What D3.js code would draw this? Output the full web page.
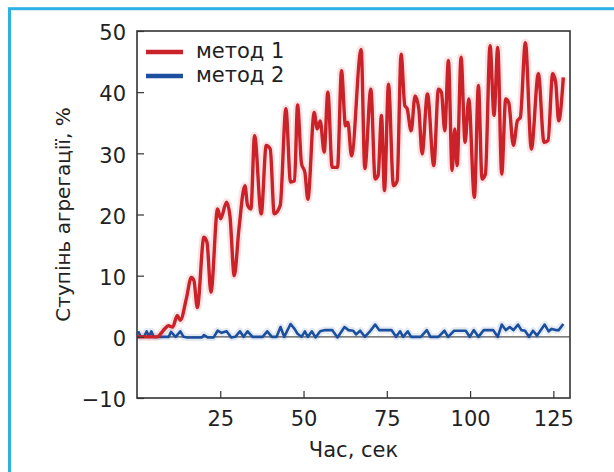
<!DOCTYPE html>
<html>
<head>
<meta charset="utf-8">
<script src="https://cdn.jsdelivr.net/npm/d3@7"></script>
<style>
  body { margin: 0; background: #fff; }
  svg { display: block; font-family: "DejaVu Sans", sans-serif; }
</style>
</head>
<body>
<svg id="chart" width="614" height="472"></svg>
<script>
// метод 1 (red) - time (s) and aggregation (%)
var t1 = [0, 6, 8.3, 9.5, 10.7, 12.1, 13, 14.8, 16.3, 17.1, 18.1, 20.1, 21, 22.2, 24.2, 25.1, 26.9, 27.9, 29.2,
  30.6, 32.4, 33.2, 34.2, 35.3, 37.3, 38.8, 40, 41.2, 43, 44.7, 46.1, 47.3, 48.2, 49.4, 50.4, 51.3, 53.2, 54.1,
  55, 56.2, 57.3, 58.6, 60.2, 61.4, 62.6, 63.3, 64.4, 67.3, 68.4, 70.2, 71.5, 72.4, 73.4, 74.3, 75.5, 77, 78.1,
  79.3, 80.4, 81.1, 82.3, 83.5, 84.6, 85.6, 87.2, 89.1, 90.5, 91.4, 92.4, 93.5, 94.6, 95.4, 96.1, 97.3, 98.5,
  99.6, 101.3, 102.5, 103.6, 104.6, 106, 107.2, 108.3, 109.5, 110.7, 111.6, 113, 114.2, 115.1, 116.6, 118.4,
  120.5, 122.2, 123.4, 124.8, 125.7, 126.6, 128];
var v1 = [0, 0, 1.3, 1.8, 1.6, 3.5, 2.7, 6.2, 9.7, 9.2, 4.8, 16.3, 15.5, 7.3, 20.9, 19.3, 22, 19.8, 10,
  17.6, 24.7, 21.5, 20.9, 32.9, 20.1, 31.3, 30.7, 20.1, 21.5, 37.3, 25.3, 25.5, 37.9, 28.3, 26.9, 22.5, 36.7, 34,
  35.3, 30.2, 40, 27.7, 27.7, 43.5, 34.5, 35.1, 29.6, 47, 27.5, 40.5, 25.8, 26.4, 36.2, 23.9, 41.3, 24.7, 25.5,
  46.2, 37.8, 37.3, 33.7, 39.4, 37.3, 29.9, 39.7, 28, 40.5, 40, 33.7, 45.2, 27.2, 34, 28, 45.7, 31.8,
  38.9, 22.8, 41.1, 25.8, 26.6, 47.6, 36.2, 47.3, 26.6, 38.9, 38.3, 31.3, 35.3, 35.9, 48.1, 30.7,
  43, 31.8, 32.1, 43, 41.6, 35.3, 42.4];

// метод 2 (blue)
var t2 = [0.35, 1.1, 2.2, 2.9, 3.6, 4.3, 5.0, 7.2, 9.5, 10.2, 11.6, 13.0, 14.0, 15.1, 17.7, 19.5, 20.1, 21.2,
  23.0, 24.2, 25.4, 26.9, 28.3, 29.5, 30.9, 32.0, 33.2, 34.7, 36.5, 37.7, 39.1, 40.5, 41.9, 43.1, 44.2, 46.1,
  47.3, 48.2, 49.4, 50.4, 51.3, 52.5, 53.6, 55.0, 56.5, 58.6, 60.2, 62.3, 63.5, 64.9, 65.8, 67.0, 68.4, 69.8,
  71.5, 72.7, 73.8, 76.4, 77.8, 79.0, 79.9, 81.3, 82.3, 83.5, 85.2, 87.0, 88.1, 90.5, 92.3, 93.4, 95.2, 97.3,
  98.7, 99.9, 101.1, 102.5, 104.1, 106.9, 108.3, 109.5, 110.7, 111.9, 113.0, 114.4, 115.4, 116.5, 117.7,
  118.9, 120.1, 122.4, 123.6, 124.5, 125.7, 126.6, 128.0];
var v2 = [0.9, 0, 0.1, 0.9, 0, 0.9, 0, 0, 0, 0.8, 0, 0.9, 0, -0.1, -0.1, -0.1, 0.3, -0.1,
  -0.1, 1.0, 0.65, 0.9, -0.1, 0, 0.9, 0, 0.9, 0, 0, 0, 0.9, 0, 0, 1.6, 0, 2.1,
  1.3, 0.5, 0, 0.9, 0, 0.9, -0.1, 0.9, 1.1, 1.1, -0.1, 1.6, 1.1, 1.0, 0.4, 1.0, 0, 0.8,
  2.0, 1.1, 1.1, 1.1, 0, 0.9, 0, 0.9, 0, 0, 0, 1.1, 0, 0, 1.0, 0, 1.0, 1.0,
  1.0, 0, 1.1, 0, 1.1, 1.1, 0, 2.0, 1.1, 1.6, 1.1, 2.0, 1.1, 1.0, 0,
  1.0, 0.2, 2.0, 0.9, 1.3, 1.1, 1.1, 2.1];

var xTicks = [25, 50, 75, 100, 125];
var yTicks = [-10, 0, 10, 20, 30, 40, 50];
var legendNames = ["метод 1", "метод 2"];
var colors = ["#cb2229", "#1c4f9e"];

var data1 = t1.map(function (t, i) { return { t: t, v: v1[i] }; });
var data2 = t2.map(function (t, i) { return { t: t, v: v2[i] }; });

var plotLeft = 137, plotRight = 570, plotTop = 31, plotBottom = 398;

var svg = d3.select("#chart");

// light blue frame
svg.append("rect")
  .attr("x", 9.5).attr("y", 8.7)
  .attr("width", 700).attr("height", 600)
  .attr("fill", "none")
  .attr("stroke", "#2cb0e6")
  .attr("stroke-width", 3);

var xScale = d3.scaleLinear().domain([0, 130]).range([plotLeft, plotRight]);
var yScale = d3.scaleLinear().domain([-10, 50]).range([plotBottom, plotTop]);

// zero line
svg.append("line")
  .attr("x1", plotLeft).attr("x2", plotRight)
  .attr("y1", yScale(0)).attr("y2", yScale(0))
  .attr("stroke", "#555")
  .attr("stroke-width", 1.2);

var line = d3.line()
  .x(d => xScale(d.t))
  .y(d => yScale(d.v));

// soft halos like the printed figure
svg.append("path").datum(data2)
  .attr("fill", "none").attr("stroke", colors[1]).attr("stroke-opacity", 0.12)
  .attr("stroke-width", 7).attr("stroke-linejoin", "round")
  .attr("d", line.curve(d3.curveLinear));
svg.append("path").datum(data2)
  .attr("fill", "none").attr("stroke", colors[1])
  .attr("stroke-width", 2.6).attr("stroke-linejoin", "round")
  .attr("d", line.curve(d3.curveLinear));

svg.append("path").datum(data1)
  .attr("fill", "none").attr("stroke", colors[0]).attr("stroke-opacity", 0.12)
  .attr("stroke-width", 8).attr("stroke-linejoin", "round")
  .attr("d", line.curve(d3.curveMonotoneX));
svg.append("path").datum(data1)
  .attr("fill", "none").attr("stroke", colors[0])
  .attr("stroke-width", 3.4).attr("stroke-linejoin", "round")
  .attr("d", line.curve(d3.curveMonotoneX));

// axes
var xAxis = d3.axisBottom(xScale)
  .tickValues(xTicks)
  .tickSizeInner(-7)
  .tickSizeOuter(0)
  .tickPadding(13);

var yAxis = d3.axisLeft(yScale)
  .tickValues(yTicks)
  .tickSizeInner(-7)
  .tickSizeOuter(0)
  .tickPadding(11)
  .tickFormat(d => d < 0 ? "\u2212" + Math.abs(d) : d);

var gx = svg.append("g")
  .attr("transform", "translate(0," + plotBottom + ")")
  .call(xAxis);

var gy = svg.append("g")
  .attr("transform", "translate(" + plotLeft + ",0)")
  .call(yAxis);

[gx, gy].forEach(function (g) {
  g.select(".domain").remove();
  g.selectAll(".tick line").attr("stroke", "#333").attr("stroke-width", 1.2);
  g.selectAll(".tick text")
    .attr("fill", "#222")
    .style("font-family", "DejaVu Sans")
    .style("font-size", "21px");
});
gy.selectAll(".tick text").attr("dy", "0.42em");

// box
svg.append("rect")
  .attr("x", plotLeft).attr("y", plotTop)
  .attr("width", plotRight - plotLeft).attr("height", plotBottom - plotTop)
  .attr("fill", "none")
  .attr("stroke", "#333")
  .attr("stroke-width", 1.6);

// axis titles
svg.append("text")
  .attr("x", (plotLeft + plotRight) / 2)
  .attr("y", 457)
  .attr("text-anchor", "middle")
  .style("font-size", "21px")
  .attr("fill", "#222")
  .text("Час, сек");

svg.append("text")
  .attr("transform", "translate(70," + (plotTop + plotBottom) / 2 + ") rotate(-90)")
  .attr("text-anchor", "middle")
  .style("font-size", "20px")
  .attr("fill", "#222")
  .text("Ступінь агрегації, %");

// legend
legendNames.forEach(function (name, i) {
  var ly = 52 + i * 24;
  svg.append("line")
    .attr("x1", 146).attr("x2", 183)
    .attr("y1", ly).attr("y2", ly)
    .attr("stroke", colors[i])
    .attr("stroke-width", 4.5);
  svg.append("text")
    .attr("x", 196)
    .attr("y", ly + 6)
    .style("font-size", "21px")
    .attr("fill", "#222")
    .text(name);
});
</script>
</body>
</html>
